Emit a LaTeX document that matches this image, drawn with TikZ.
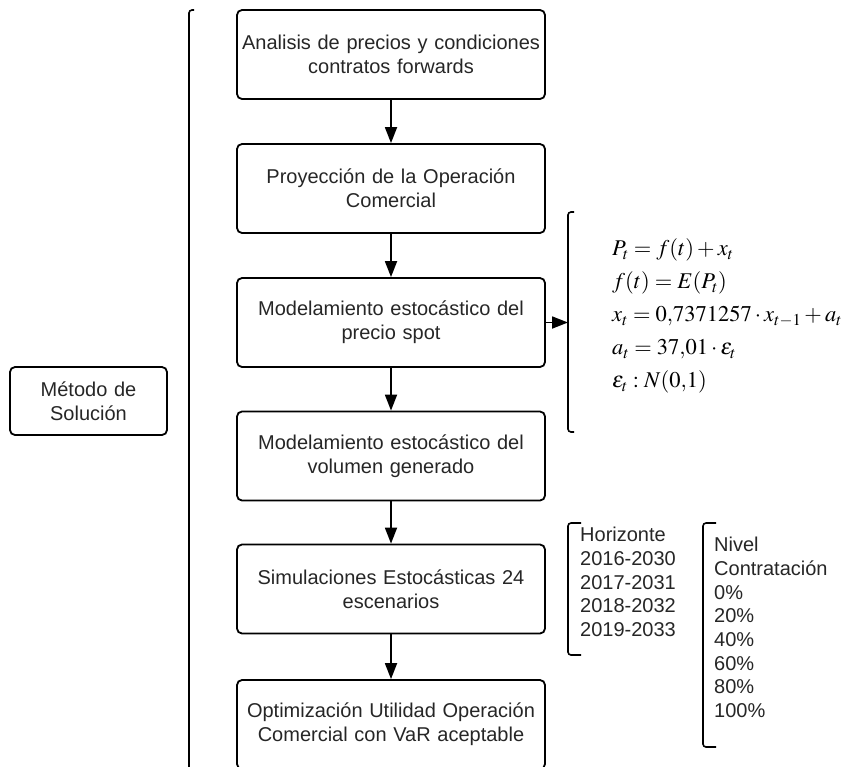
\documentclass[tikz,border=0pt]{standalone}
\usepackage{mathptmx}
\usepackage[no-math]{fontspec}
\setmainfont{Liberation Sans}
\usepackage{tikz}
\usetikzlibrary{arrows.meta,positioning}
\tikzset{
  stepbox/.style={draw, rounded corners=5pt, line width=1.8pt, align=center, text width=300pt, minimum width=308pt, minimum height=89pt, font=\fontsize{20}{24}\selectfont, text=black!85},
  arr/.style={-{Triangle[length=16pt,width=12pt]}, line width=1.8pt},
  brk/.style={line width=1.6pt, rounded corners=3pt},
  lst/.style={align=left, anchor=north west, inner sep=0pt, font=\fontsize{20}{23.7}\selectfont, text=black!85},
}
\begin{document}
\begin{tikzpicture}[x=1pt,y=-1pt]
\useasboundingbox (0,0) rectangle (845,766);
% main column
\node[stepbox] (analisis) at (391,54.5) {Analisis de precios y condiciones\\contratos forwards};
\node[stepbox] (proyeccion) at (391,188.5) {Proyección de la Operación\\Comercial};
\node[stepbox] (precio) at (391,322.5) {Modelamiento estocástico del\\precio spot};
\node[stepbox] (volumen) at (391,456) {Modelamiento estocástico del\\volumen generado};
\node[stepbox] (simul) at (391,589) {Simulaciones Estocásticas 24\\escenarios};
\node[stepbox] (optim) at (391,724.5) {Optimización Utilidad Operación\\Comercial con VaR aceptable};
\draw[arr] (analisis) -- (proyeccion); \draw[arr] (proyeccion) -- (precio); \draw[arr] (precio) -- (volumen);
\draw[arr] (volumen) -- (simul); \draw[arr] (simul) -- (optim);
% left label and big bracket
\node[stepbox, text width=150pt, minimum width=157pt, minimum height=68pt] (metodo) at (88.5,401) {Método de\\Solución};
\coordinate (bigtop) at (189,10);
\draw[brk] ([xshift=5pt]bigtop) -- (bigtop) -- (189,790);
% price model
\coordinate (eqtop) at (568,212);
\coordinate (eqbot) at (568,432);
\draw[brk] ([xshift=6pt]eqtop) -- (eqtop) -- (eqbot) -- ([xshift=6pt]eqbot);
\draw[arr] (precio.east) -- (precio.east -| eqtop);
\node[anchor=west, align=left, inner sep=0pt, font=\fontsize{22.5}{33}\selectfont] (eqs) at (612,316) {$P_t = f(t) + x_t$\\$f(t) = E(P_t)$\\$x_t = 0{,}7371257 \cdot x_{t-1} + a_t$\\$a_t = 37{,}01 \cdot \varepsilon_t$\\$\varepsilon_t : N(0{,}1)$};
% scenarios
\node[lst] (horiz) at (580,527) {Horizonte\\2016-2030\\2017-2031\\2018-2032\\2019-2033};
\coordinate (hztop) at (568,523);
\coordinate (hzbot) at (568,655);
\draw[brk] ([xshift=13pt]hztop) -- (hztop) -- (hzbot) -- ([xshift=13pt]hzbot);
\node[lst] (nivel) at (714,537) {Nivel\\Contratación\\0\%\\20\%\\40\%\\60\%\\80\%\\100\%};
\coordinate (nvtop) at (703,523);
\coordinate (nvbot) at (703,747);
\draw[brk] ([xshift=13pt]nvtop) -- (nvtop) -- (nvbot) -- ([xshift=13pt]nvbot);
\end{tikzpicture}
\end{document}
